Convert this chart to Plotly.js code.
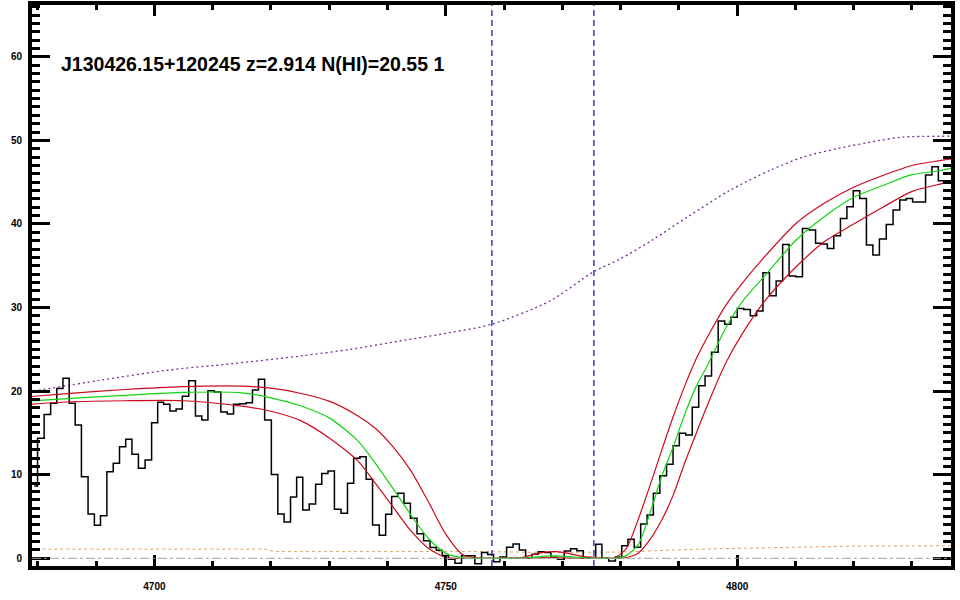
<!DOCTYPE html>
<html>
<head>
<meta charset="utf-8">
<script src="https://cdn.plot.ly/plotly-3.0.1.min.js"></script>
<style>
  html, body { margin: 0; padding: 0; background: #ffffff; }
  #chart { width: 960px; height: 600px; }
</style>
</head>
<body>
<div id="chart"></div>
<script>
// ---- observed spectrum (bin centres in Angstrom, flux) ----
const fluxWave = [4679.39, 4680.51, 4681.66, 4682.74, 4683.77, 4684.85, 4685.91, 4686.91, 4688.05, 4689.19,
  4690.22, 4691.29, 4692.40, 4693.48, 4694.55, 4695.61, 4696.69, 4697.83, 4698.98, 4700.07,
  4701.06, 4702.12, 4703.21, 4704.26, 4705.32, 4706.47, 4707.62, 4708.65, 4709.73, 4710.84,
  4711.96, 4713.04, 4714.13, 4715.22, 4716.30, 4717.36, 4718.35, 4719.50, 4720.65, 4721.71,
  4722.82, 4723.91, 4724.92, 4726.00, 4727.14, 4728.20, 4729.25, 4730.34, 4731.45, 4732.60,
  4733.67, 4734.73, 4735.80, 4736.87, 4738.01, 4739.17, 4740.21, 4741.22, 4742.29, 4743.37,
  4744.49, 4745.64, 4746.75, 4747.87, 4748.89, 4749.91, 4751.02, 4752.15, 4753.27, 4754.41,
  4755.58, 4756.70, 4757.69, 4758.72, 4759.87, 4761.01, 4762.09, 4763.16, 4764.27, 4765.35,
  4766.38, 4767.47, 4768.62, 4769.76, 4770.90, 4771.96, 4773.02, 4774.16, 4775.22, 4776.23,
  4777.37, 4778.57, 4779.66, 4780.74, 4781.79, 4782.88, 4784.02, 4785.08, 4786.17, 4787.32,
  4788.46, 4789.54, 4790.63, 4791.74, 4792.86, 4793.95, 4795.04, 4796.18, 4797.32, 4798.41,
  4799.46, 4800.58, 4801.72, 4802.81, 4803.89, 4804.98, 4806.12, 4807.27, 4808.35, 4809.49,
  4810.64, 4811.78, 4812.93, 4813.99, 4814.96, 4816.01, 4817.16, 4818.30, 4819.38, 4820.47,
  4821.62, 4822.76, 4823.84, 4824.99, 4826.19, 4827.33, 4828.48, 4829.57, 4830.65, 4831.79,
  4832.88, 4833.97, 4835.09, 4836.14, 4837.25];
const flux = [8.65, 14.35, 17.22, 18.54, 20.33, 21.53, 18.54, 15.94, 9.76, 5.30,
  3.95, 5.10, 10.36, 11.36, 13.35, 14.23, 12.44, 10.77, 11.76, 16.22,
  18.66, 18.42, 17.62, 17.86, 19.40, 21.24, 17.02, 16.54, 20.05, 19.90,
  17.50, 17.26, 18.42, 18.50, 18.60, 20.13, 21.41, 16.54, 10.04, 5.30,
  4.34, 7.35, 9.69, 5.78, 6.50, 8.85, 10.16, 10.44, 5.88, 5.38,
  8.97, 11.96, 12.15, 9.47, 3.98, 2.77, 5.28, 7.40, 7.77, 6.58,
  4.80, 2.95, 2.10, 1.30, 0.95, 0.35, -0.10, -0.60, 0.30, 0.30,
  -0.65, 0.70, 0.45, -0.40, 0.15, 1.31, 1.71, 0.99, 0.00, 0.48,
  0.79, 0.70, 0.12, -0.12, 0.87, 1.15, 0.91, 0.08, 0.10, 1.67,
  0.00, -0.32, 0.15, 1.50, 2.27, 1.31, 4.10, 5.18, 7.77, 9.88,
  11.24, 13.47, 14.95, 14.75, 18.06, 20.65, 21.80, 24.64, 28.39, 27.99,
  28.83, 29.90, 29.78, 29.02, 29.58, 34.16, 31.41, 33.17, 37.56, 33.77,
  33.69, 39.47, 39.27, 37.68, 37.60, 37.08, 38.59, 40.67, 42.06, 43.97,
  43.06, 37.48, 36.28, 38.19, 39.95, 41.66, 42.86, 43.06, 42.62, 42.62,
  45.85, 46.84, 45.17, 45.17, 45.20];

// ---- DLA model curves ----
const modelWave = [4678, 4685, 4695, 4705, 4715, 4720, 4725, 4730, 4735, 4738,
  4741, 4744, 4747, 4750, 4753, 4756, 4760, 4763, 4765, 4767,
  4769, 4771, 4773, 4775, 4777, 4779, 4781, 4783, 4785, 4787,
  4789, 4791, 4793, 4795, 4798, 4801, 4805, 4810, 4815, 4820,
  4825, 4830, 4835, 4838];
const modelFit = [18.8, 19.1, 19.5, 19.85, 19.8, 19.2, 18.25, 16.8, 14.0, 11.3,
  8.3, 5.2, 2.4, 0.6, 0.05, 0.0, 0.0, 0.02, 0.12, 0.25,
  0.3, 0.2, 0.1, 0.02, 0.0, 0.0, 0.35, 1.6, 5.3, 9.7,
  13.3, 17.2, 20.6, 23.2, 27.5, 30.8, 34.0, 38.0, 40.9, 43.2,
  44.6, 45.9, 46.4, 46.9];
const modelHigh = [19.3, 19.7, 20.2, 20.55, 20.6, 20.35, 19.75, 18.8, 17.0, 15.5,
  13.3, 10.5, 6.8, 2.9, 0.4, 0.02, 0.0, 0.1, 0.45, 0.75,
  0.8, 0.6, 0.3, 0.1, 0.0, 0.05, 1.2, 4.6, 8.6, 12.8,
  16.9, 20.6, 23.9, 26.6, 30.2, 33.0, 36.3, 40.0, 42.5, 44.4,
  45.8, 47.0, 47.6, 47.95];
const modelLow = [18.4, 18.7, 18.85, 18.85, 18.2, 17.6, 16.5, 14.4, 11.6, 8.9,
  6.1, 3.3, 1.2, 0.1, 0.0, 0.0, 0.0, 0.0, 0.04, 0.08,
  0.06, 0.03, 0.0, 0.0, 0.0, 0.0, 0.1, 0.6, 2.2, 4.5,
  7.5, 11.4, 15.0, 18.5, 23.3, 27.0, 31.0, 34.8, 37.9, 40.0,
  42.0, 43.9, 44.8, 45.3];

// ---- continuum (dotted purple) ----
const contWave = [4679.2, 4690.7, 4702.2, 4713.5, 4725.0, 4733.6, 4742.1, 4750.7, 4757.9, 4767.9,
  4775.4, 4779.9, 4785.5, 4791.4, 4798.7, 4805.6, 4811.3, 4817.1, 4824.5, 4828.4, 4837.0];
const cont = [20.0, 21.3, 22.5, 23.3, 24.2, 25.0, 26.0, 27.0, 28.0, 30.8,
  34.3, 35.8, 38.1, 40.8, 44.0, 46.4, 48.0, 49.0, 50.0, 50.4, 50.5];

// ---- noise (dotted orange) ----
const noiseWave = [4678.7, 4719.0, 4720.7, 4742.1, 4755.9, 4767.9, 4779.9, 4793.6, 4809.0, 4819.3, 4837.0];
const noise = [1.1, 1.1, 0.8, 0.85, 0.8, 0.7, 0.75, 1.1, 1.3, 1.45, 1.5];

// ---- markers / labels ----
const markWaves = [4757.92, 4775.42];
const titleText = 'J130426.15+120245 z=2.914 N(HI)=20.55 1';
const xRange = [4679.0, 4836.7];
const yRange = [-0.92, 66.2];

const traces = [
  { x: noiseWave, y: noise, mode: 'lines', line: { color: '#d9a066', width: 1, dash: 'dot' }, hoverinfo: 'skip' },
  { x: contWave, y: cont, mode: 'lines', line: { color: '#7b2d9b', width: 1.3, dash: '2px,3px', shape: 'spline', smoothing: 0.8 }, hoverinfo: 'skip' },
  { x: fluxWave, y: flux, mode: 'lines', line: { color: '#000000', width: 1.5, shape: 'hvh' }, hoverinfo: 'skip' },
  { x: modelWave, y: modelHigh, mode: 'lines', line: { color: '#cc0a1e', width: 1.2, shape: 'spline', smoothing: 0.7 }, hoverinfo: 'skip' },
  { x: modelWave, y: modelLow, mode: 'lines', line: { color: '#cc0a1e', width: 1.2, shape: 'spline', smoothing: 0.7 }, hoverinfo: 'skip' },
  { x: modelWave, y: modelFit, mode: 'lines', line: { color: '#11d411', width: 1.2, shape: 'spline', smoothing: 0.7 }, hoverinfo: 'skip' }
];

const shapes = markWaves.map(w => ({
  type: 'line', xref: 'x', yref: 'paper', x0: w, x1: w, y0: 0, y1: 1,
  line: { color: '#1a1adc', width: 1.3, dash: '6px,4px' }
}));
shapes.unshift({
  type: 'line', xref: 'paper', yref: 'y', x0: 0, x1: 1, y0: 0, y1: 0,
  line: { color: '#a0a0a0', width: 1, dash: 'dashdot' }
});

const tickFont = { family: 'Liberation Sans, Arial, sans-serif', size: 10, color: '#000', weight: 'bold' };

const layout = {
  width: 960, height: 600,
  margin: { l: 32, r: 9, t: 5, b: 34, pad: 0 },
  paper_bgcolor: '#ffffff', plot_bgcolor: '#ffffff',
  showlegend: false,
  xaxis: {
    range: xRange, showgrid: false, zeroline: false,
    showline: true, linecolor: '#000', linewidth: 4, mirror: 'ticks',
    ticks: 'inside', tick0: 4700, dtick: 50, ticklen: 11, tickwidth: 3, tickcolor: '#000',
    minor: { ticks: 'inside', dtick: 10, ticklen: 5, tickwidth: 3, tickcolor: '#000', showgrid: false },
    tickfont: tickFont, ticklabelstandoff: 8
  },
  yaxis: {
    range: yRange, showgrid: false, zeroline: false,
    showline: true, linecolor: '#000', linewidth: 4, mirror: 'ticks',
    ticks: 'inside', tick0: 0, dtick: 10, ticklen: 18, tickwidth: 3, tickcolor: '#000',
    minor: { ticks: 'inside', dtick: 1, ticklen: 8, tickwidth: 3, tickcolor: '#000', showgrid: false },
    tickfont: tickFont, ticklabelstandoff: 4
  },
  shapes: shapes,
  annotations: [{
    text: titleText, xref: 'paper', yref: 'paper', x: 0.029, y: 0.894,
    xanchor: 'left', yanchor: 'middle', showarrow: false,
    font: { family: 'Liberation Sans, Arial, sans-serif', size: 19.5, color: '#000', weight: 'bold' }
  }]
};

Plotly.newPlot('chart', traces, layout, { staticPlot: true, displayModeBar: false });
</script>
</body>
</html>
